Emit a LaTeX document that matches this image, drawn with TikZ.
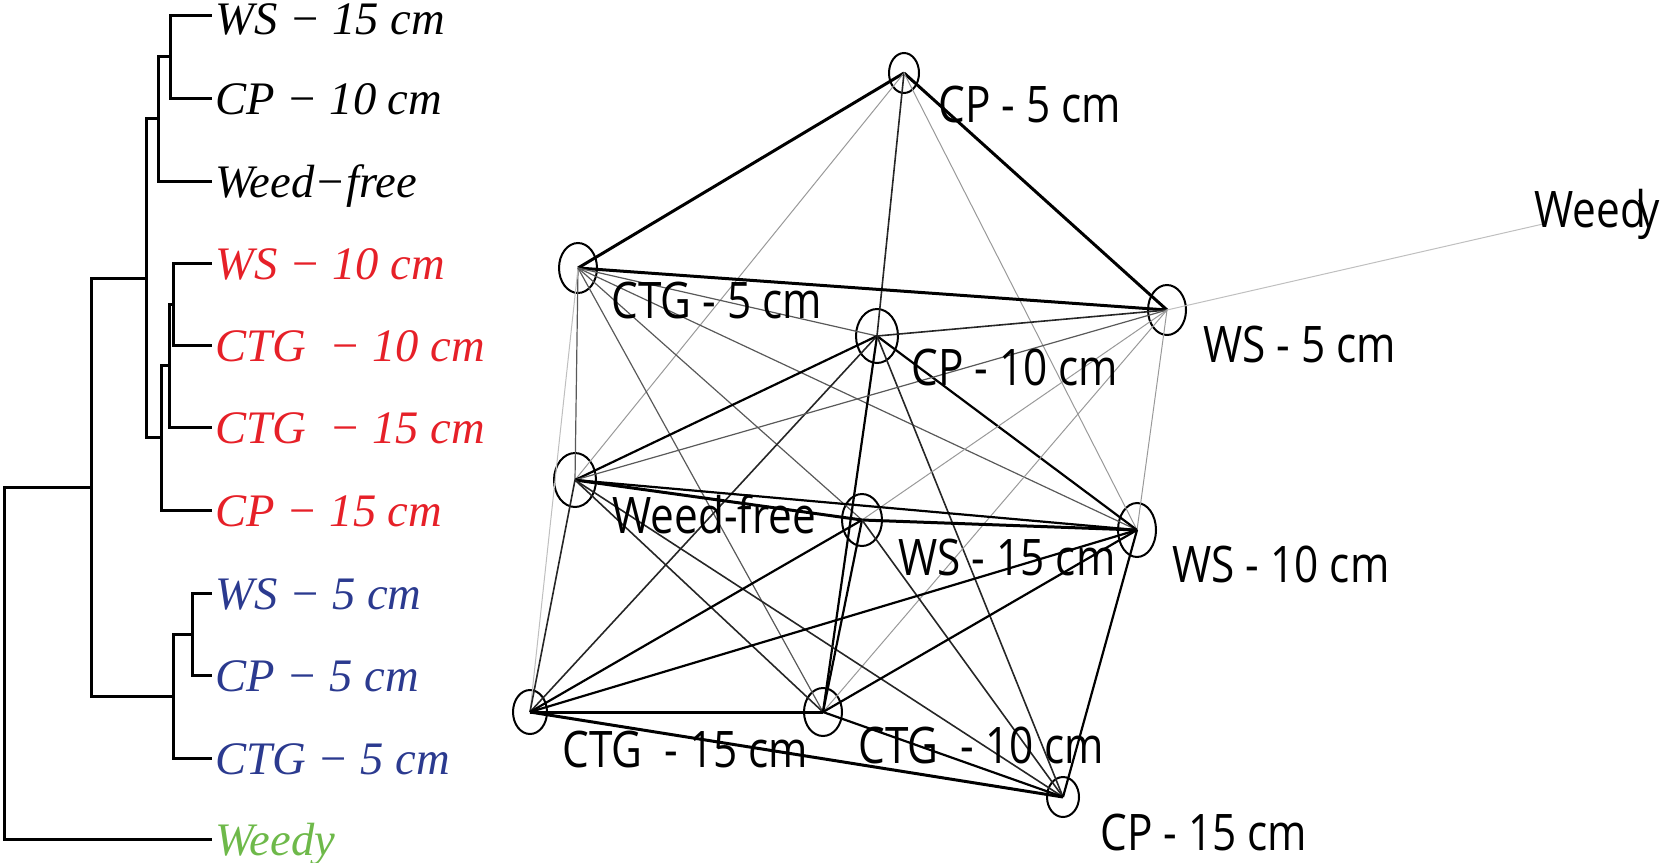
\documentclass[tikz,border=0pt]{standalone}
\usepackage{fontspec}
\setmainfont{Liberation Serif}
\newfontfamily\netfont[FakeStretch=0.84]{Open Sans}
\usetikzlibrary{shapes.geometric}
\definecolor{dred}{RGB}{230,32,40}
\definecolor{dblue}{RGB}{43,58,143}
\definecolor{dgreen}{RGB}{110,185,74}
\tikzset{
  tree/.style={line width=1.5pt,black,line cap=rect},
  leaf/.style={anchor=base west,inner sep=0pt,font=\fontsize{23.3}{28}\selectfont\itshape},
  vert/.style={ellipse,draw,line width=1pt,inner sep=0pt,minimum width=#1},
  lab/.style={anchor=base west,inner sep=0pt,font=\netfont\fontsize{25.2}{30}\selectfont},
  eA/.style={line width=1.5pt,black},
  eB/.style={line width=1.1pt,black},
  eC/.style={line width=0.8pt,black!85},
  eD/.style={line width=0.6pt,black!65},
  eE/.style={line width=0.5pt,black!40},
  eF/.style={line width=0.5pt,black!25},
}
\begin{document}
\begin{tikzpicture}[x=0.5pt,y=-0.5pt]
\useasboundingbox (0,0) rectangle (1664,862);
% ---------------- dendrogram ----------------
\draw[tree] (210,15) -- (170,15) -- (170,98) -- (210,98);
\draw[tree] (170,56) -- (158,56) -- (158,181) -- (210,181);
\draw[tree] (210,263) -- (173,263) -- (173,345) -- (210,345);
\draw[tree] (173,304) -- (169,304) -- (169,427) -- (210,427);
\draw[tree] (169,365) -- (161,365) -- (161,510) -- (210,510);
\draw[tree] (158,118) -- (146,118) -- (146,437) -- (161,437);
\draw[tree] (210,593) -- (192,593) -- (192,675) -- (210,675);
\draw[tree] (192,634) -- (173,634) -- (173,758) -- (210,758);
\draw[tree] (146,278) -- (91,278) -- (91,696) -- (173,696);
\draw[tree] (91,487) -- (4,487) -- (4,839) -- (210,839);
\node[leaf] (l1) at (215,34) {WS − 15 cm};
\node[leaf] (l2) at (215,114) {CP − 10 cm};
\node[leaf] (l3) at (215,197) {Weed−free};
\node[leaf,text=dred] (l4) at (215,279) {WS − 10 cm};
\node[leaf,text=dred] (l5) at (215,361) {CTG\ \ − 10 cm};
\node[leaf,text=dred] (l6) at (215,443) {CTG\ \ − 15 cm};
\node[leaf,text=dred] (l7) at (215,526) {CP − 15 cm};
\node[leaf,text=dblue] (l8) at (215,609) {WS − 5 cm};
\node[leaf,text=dblue] (l9) at (215,691) {CP − 5 cm};
\node[leaf,text=dblue] (l10) at (215,774) {CTG − 5 cm};
\node[leaf,text=dgreen] (l11) at (215,855) {Weedy};
% ---------------- network ----------------
\node[vert=15pt,minimum height=20pt] (A) at (904,73) {};
\node[vert=19pt,minimum height=25pt] (B) at (578,268) {};
\node[vert=21pt,minimum height=27pt] (C) at (877,336) {};
\node[vert=19pt,minimum height=25pt] (D) at (1167,310) {};
\node[vert=21pt,minimum height=27pt] (E) at (575,480) {};
\node[vert=20pt,minimum height=26pt] (F) at (862,520) {};
\node[vert=19pt,minimum height=27pt] (G) at (1137,530) {};
\node[vert=17pt,minimum height=22pt] (H) at (530,712) {};
\node[vert=19pt,minimum height=24pt] (I) at (823,712) {};
\node[vert=16pt,minimum height=20pt] (J) at (1063,797) {};
\coordinate (K) at (1543,224);
% edges
\draw[eA] (A.center) -- (B.center);
\draw[eA] (A.center) -- (D.center);
\draw[eE] (A.center) -- (E.center);
\draw[eC] (A.center) -- (C.center);
\draw[eE] (A.center) -- (G.center);
\draw[eA] (B.center) -- (D.center);
\draw[eD] (B.center) -- (C.center);
\draw[eD] (B.center) -- (E.center);
\draw[eF] (B.center) -- (H.center);
\draw[eD] (B.center) -- (I.center);
\draw[eD] (B.center) -- (F.center);
\draw[eD] (B.center) -- (G.center);
\draw[eB] (C.center) -- (E.center);
\draw[eC] (C.center) -- (H.center);
\draw[eB] (C.center) -- (I.center);
\draw[eB] (C.center) -- (G.center);
\draw[eC] (C.center) -- (J.center);
\draw[eC] (C.center) -- (D.center);
\draw[eD] (D.center) -- (E.center);
\draw[eE] (D.center) -- (F.center);
\draw[eE] (D.center) -- (G.center);
\draw[eE] (D.center) -- (I.center);
\draw[eF] (D.center) -- (K);
\draw[eA] (E.center) -- (F.center);
\draw[eB] (E.center) -- (G.center);
\draw[eC] (E.center) -- (H.center);
\draw[eC] (E.center) -- (I.center);
\draw[eC] (E.center) -- (J.center);
\draw[eA] (F.center) -- (G.center);
\draw[eB] (F.center) -- (H.center);
\draw[eB] (F.center) -- (I.center);
\draw[eC] (F.center) -- (J.center);
\draw[eB] (G.center) -- (H.center);
\draw[eB] (G.center) -- (I.center);
\draw[eB] (G.center) -- (J.center);
\draw[eA] (H.center) -- (I.center);
\draw[eA] (H.center) -- (J.center);
\draw[eB] (I.center) -- (J.center);
% labels
\node[lab] (tA) at (938,122) {CP - 5 cm};
\node[lab] (tB) at (611,318) {CTG - 5 cm};
\node[lab] (tC) at (911,385) {CP - 10 cm};
\node[lab] (tD) at (1203,362) {WS - 5 cm};
\node[lab] (tE) at (612,533) {Weed-free};
\node[lab] (tF) at (898,575) {WS - 15 cm};
\node[lab] (tG) at (1172,582) {WS - 10 cm};
\node[lab] (tH) at (562,767) {CTG\ \ - 15 cm};
\node[lab] (tI) at (858,763) {CTG\ \ - 10 cm};
\node[lab] (tJ) at (1100,850) {CP - 15 cm};
\node[lab] (tK) at (1534,227) {Weed\kern-4pt y};
\end{tikzpicture}
\end{document}
